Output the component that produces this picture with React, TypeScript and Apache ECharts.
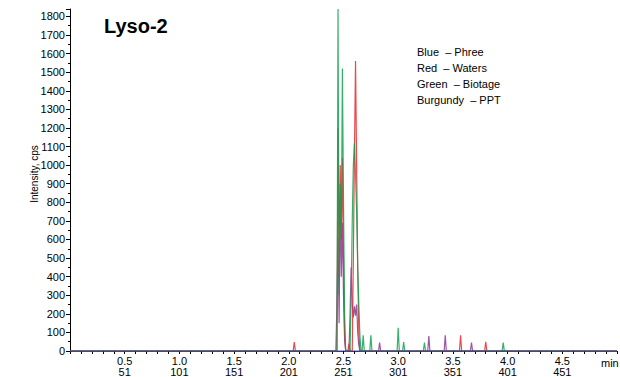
import React, { useEffect, useRef } from "react";
import * as echarts from "echarts";

// [time (min), intensity (cps)]
const phreeData: [number, number][] = [[0, 0], [5, 0]];

const watersData: [number, number][] = [
  [0, 0], [2.04, 0], [2.05, 48], [2.06, 0], [2.44, 0], [2.45, 1200], [2.46, 400],
  [2.47, 1000], [2.48, 600], [2.49, 1040], [2.5, 500], [2.51, 100], [2.52, 0],
  [2.54, 0], [2.55, 40], [2.56, 0], [2.58, 0], [2.59, 500], [2.6, 1060], [2.61, 1560],
  [2.62, 1000], [2.63, 440], [2.64, 100], [2.65, 0], [3.56, 0], [3.57, 85], [3.58, 0],
  [3.79, 0], [3.8, 50], [3.81, 0], [5, 0],
];

const biotageData: [number, number][] = [
  [0, 0], [2.44, 0], [2.45, 1840], [2.46, 300], [2.47, 900], [2.48, 600], [2.49, 1520],
  [2.5, 800], [2.51, 200], [2.52, 0], [2.56, 0], [2.57, 300], [2.58, 700], [2.59, 1000],
  [2.6, 1120], [2.61, 950], [2.62, 750], [2.63, 450], [2.64, 250], [2.65, 80], [2.66, 0],
  [2.67, 0], [2.68, 85], [2.69, 0], [2.74, 0], [2.75, 85], [2.76, 0], [2.99, 0],
  [3.0, 125], [3.01, 0], [3.04, 0], [3.05, 48], [3.06, 0], [3.23, 0], [3.24, 45],
  [3.25, 0], [3.95, 0], [3.96, 45], [3.97, 0], [5, 0],
];

const pptData: [number, number][] = [
  [0, 0], [2.43, 0], [2.44, 250], [2.45, 610], [2.46, 150], [2.47, 820], [2.48, 400],
  [2.49, 690], [2.5, 300], [2.51, 60], [2.52, 0], [2.55, 0], [2.56, 200], [2.57, 450],
  [2.58, 250], [2.59, 180], [2.6, 240], [2.61, 190], [2.62, 250], [2.63, 100], [2.64, 30],
  [2.65, 0], [2.82, 0], [2.83, 45], [2.84, 0], [3.27, 0], [3.28, 80], [3.29, 0],
  [3.42, 0], [3.43, 85], [3.44, 0], [3.66, 0], [3.67, 45], [3.68, 0], [5, 0],
];

const legendLines = ["Blue  – Phree", "Red  – Waters", "Green  – Biotage", "Burgundy  – PPT"];
const titleText = "Lyso-2";
const yAxisName = "Intensity, cps";
const xAxisUnit = "min";

const FONT = "'Liberation Sans', Arial, Helvetica, sans-serif";

export default function App() {
  const ref = useRef<HTMLDivElement>(null);
  useEffect(() => {
    if (!ref.current) return;
    const chart = echarts.init(ref.current, null, { renderer: "svg" });
    const mkSeries = (name: string, data: [number, number][], color: string) => ({
      name,
      type: "line",
      data,
      symbol: "none",
      lineStyle: { color, width: 1.2, opacity: 0.85 },
      itemStyle: { color },
    });
    chart.setOption({
      animation: false,
      backgroundColor: "#fff",
      grid: { left: 70, right: 2, top: 9, bottom: 23 },
      xAxis: {
        type: "value",
        min: 0,
        max: 5,
        interval: 0.5,
        splitLine: { show: false },
        axisLine: { lineStyle: { color: "#2f3a8a", width: 1 } },
        axisTick: { show: true, length: 3, lineStyle: { color: "#000" } },
        minorTick: { show: true, splitNumber: 5, length: 3, lineStyle: { color: "#000" } },
        axisLabel: {
          margin: 4,
          fontSize: 11,
          lineHeight: 11,
          color: "#000",
          fontFamily: FONT,
          formatter: (v: number) =>
            v <= 0 || v >= 5 ? "" : `${v.toFixed(1)}\n${Math.round(v * 100 + 1)}`,
        },
      },
      yAxis: {
        type: "value",
        min: 0,
        max: 1840,
        interval: 100,
        splitLine: { show: false },
        axisLine: { show: true, lineStyle: { color: "#000", width: 1 } },
        axisTick: { show: true, length: 4, lineStyle: { color: "#000" } },
        minorTick: { show: true, splitNumber: 2, length: 2, lineStyle: { color: "#000" } },
        axisLabel: {
          margin: 5,
          fontSize: 11,
          color: "#000",
          fontFamily: FONT,
          formatter: (v: number) => (v % 100 === 0 && v <= 1800 ? String(v) : ""),
        },
      },
      graphic: [
        {
          type: "text",
          left: 104,
          top: 16,
          style: { text: titleText, font: `bold 20px ${FONT}`, fill: "#000" },
        },
        ...legendLines.map((t, i) => ({
          type: "text",
          left: 417,
          top: 46 + i * 16,
          style: { text: t, font: `11px ${FONT}`, fill: "#000" },
        })),
        {
          type: "text",
          x: 34,
          y: 174,
          rotation: Math.PI / 2,
          style: {
            text: yAxisName,
            font: `10px ${FONT}`,
            fill: "#000",
            align: "center",
            verticalAlign: "middle",
          },
        },
        {
          type: "text",
          left: 601,
          top: 357,
          style: { text: xAxisUnit, font: `11px ${FONT}`, fill: "#000" },
        },
      ],
      series: [
        mkSeries("PPT", pptData, "#8e3596"),
        mkSeries("Waters", watersData, "#e8282b"),
        mkSeries("Biotage", biotageData, "#12a150"),
        mkSeries("Phree", phreeData, "#34408f"),
      ],
    });
    return () => chart.dispose();
  }, []);
  return (
    <div
      ref={ref}
      style={{ position: "fixed", left: 0, top: 0, width: 620, height: 377, background: "#fff" }}
    />
  );
}
